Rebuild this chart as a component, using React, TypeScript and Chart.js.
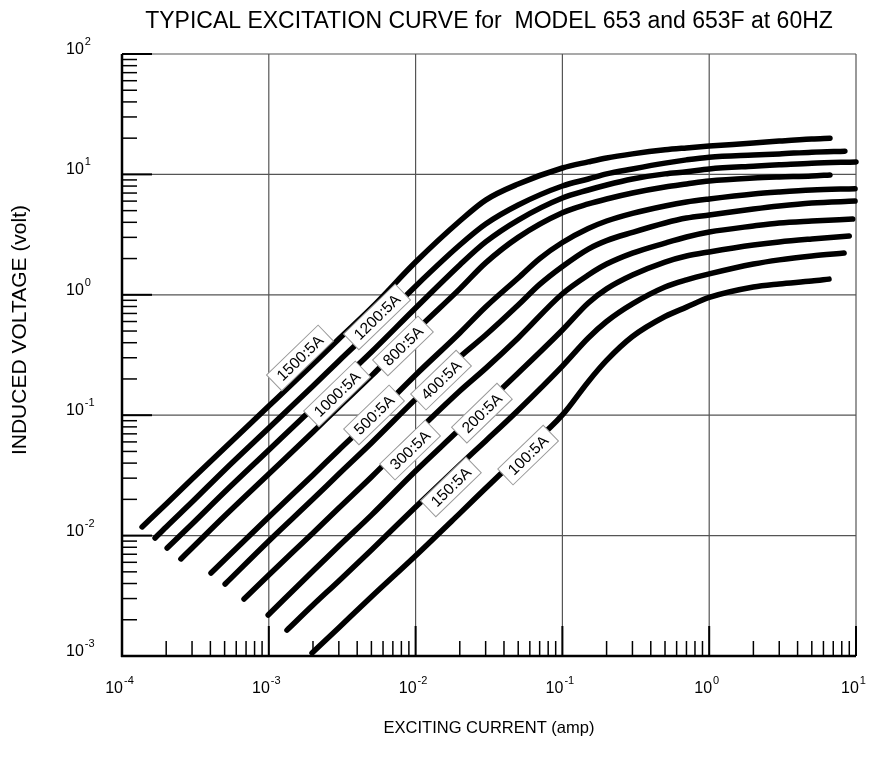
import React, { useEffect, useRef } from 'react';
import { Chart, registerables } from 'chart.js';

Chart.register(...registerables);

const FONT = "'Liberation Sans', Arial, Helvetica, sans-serif";

const TITLE = 'TYPICAL EXCITATION CURVE for  MODEL 653 and 653F at 60HZ';
const X_TITLE = 'EXCITING CURRENT (amp)';
const Y_TITLE = 'INDUCED VOLTAGE (volt)';

const xTickExponents = [-4, -3, -2, -1, 0, 1];
const yTickExponents = [-3, -2, -1, 0, 1, 2];
const minorMultipliers = [2, 3, 4, 5, 6, 7, 8, 9];

// ---- curve data (exciting current in A, induced voltage in V) ----
const current1500 = [1.37e-4, 2e-4, 3e-4, 5e-4, 1e-3, 2e-3, 3e-3, 5e-3, 1e-2, 2e-2, 3e-2, 5e-2, 0.1, 0.15, 0.2, 0.3, 0.5, 0.7, 1, 2, 3, 5, 6.65];
const voltage1500 = [0.0118, 0.0183, 0.0295, 0.0535, 0.119, 0.266, 0.43, 0.777, 1.87, 4.1, 6.12, 8.32, 11.3, 12.7, 13.7, 14.8, 16.0, 16.6, 17.2, 18.2, 18.9, 19.7, 20.0];

const current1200 = [1.68e-4, 2e-4, 3e-4, 5e-4, 1e-3, 2e-3, 3e-3, 5e-3, 1e-2, 2e-2, 3e-2, 5e-2, 0.1, 0.15, 0.2, 0.3, 0.5, 0.7, 1, 2, 3, 5, 8.4];
const voltage1200 = [0.00955, 0.0118, 0.019, 0.0351, 0.0783, 0.175, 0.282, 0.51, 1.18, 2.59, 3.87, 5.57, 8.01, 9.16, 10.1, 11.1, 12.4, 13.2, 13.9, 14.5, 14.8, 15.3, 15.6];

const current1000 = [2.03e-4, 3e-4, 5e-4, 1e-3, 2e-3, 3e-3, 5e-3, 1e-2, 2e-2, 3e-2, 5e-2, 0.1, 0.15, 0.2, 0.3, 0.5, 0.7, 1, 2, 3, 5, 10];
const voltage1000 = [0.00789, 0.01248, 0.023, 0.0514, 0.115, 0.185, 0.335, 0.777, 1.77, 2.75, 4.18, 6.37, 7.42, 8.17, 9.16, 10.1, 10.5, 11.1, 11.7, 12.0, 12.4, 12.7];

const current800 = [2.52e-4, 3e-4, 5e-4, 1e-3, 2e-3, 3e-3, 5e-3, 1e-2, 2e-2, 3e-2, 5e-2, 0.1, 0.15, 0.2, 0.3, 0.5, 0.7, 1, 2, 3, 5, 6.65];
const voltage800 = [0.0064, 0.00789, 0.01455, 0.0325, 0.0725, 0.117, 0.212, 0.5, 1.12, 1.84, 3.0, 4.8, 5.68, 6.25, 7.01, 7.86, 8.32, 8.81, 9.33, 9.52, 9.7, 9.9];

const current500 = [4.04e-4, 1e-3, 2e-3, 3e-3, 5e-3, 1e-2, 2e-2, 3e-2, 5e-2, 7e-2, 0.1, 0.15, 0.2, 0.3, 0.5, 0.7, 1, 2, 3, 5, 9.85];
const voltage500 = [0.00489, 0.01426, 0.0319, 0.0514, 0.0929, 0.216, 0.482, 0.792, 1.38, 2.0, 2.72, 3.55, 4.1, 4.75, 5.47, 5.9, 6.25, 6.87, 7.14, 7.42, 7.6];

const current400 = [5.04e-4, 1e-3, 2e-3, 3e-3, 5e-3, 1e-2, 2e-2, 3e-2, 5e-2, 7e-2, 0.1, 0.15, 0.2, 0.3, 0.5, 0.7, 1, 2, 3, 5, 9.85];
const voltage400 = [0.00396, 0.00902, 0.0201, 0.0325, 0.0588, 0.136, 0.304, 0.463, 0.822, 1.22, 1.72, 2.4, 2.82, 3.3, 3.95, 4.34, 4.6, 5.16, 5.47, 5.79, 6.0];

const current300 = [6.78e-4, 1e-3, 2e-3, 3e-3, 5e-3, 1e-2, 2e-2, 3e-2, 5e-2, 0.1, 0.15, 0.2, 0.3, 0.5, 0.7, 1, 2, 3, 5, 9.5];
const voltage300 = [0.00297, 0.00471, 0.01052, 0.01695, 0.0307, 0.0711, 0.159, 0.245, 0.438, 1.02, 1.46, 1.8, 2.22, 2.69, 3.02, 3.32, 3.73, 3.95, 4.1, 4.26];

const current200 = [9.9e-4, 2e-3, 3e-3, 5e-3, 1e-2, 2e-2, 3e-2, 5e-2, 0.1, 0.15, 0.2, 0.3, 0.5, 0.7, 1, 2, 3, 5, 9.0];
const voltage200 = [0.00219, 0.00508, 0.0082, 0.0148, 0.0344, 0.0767, 0.124, 0.224, 0.51, 0.855, 1.12, 1.46, 1.87, 2.1, 2.27, 2.59, 2.75, 2.91, 3.08];

const current150 = [1.33e-3, 2e-3, 3e-3, 5e-3, 1e-2, 2e-2, 3e-2, 5e-2, 0.1, 0.15, 0.2, 0.3, 0.5, 0.7, 1, 2, 3, 5, 8.3];
const voltage150 = [0.00164, 0.00265, 0.0042, 0.00759, 0.0173, 0.0386, 0.0611, 0.11, 0.256, 0.438, 0.6, 0.84, 1.16, 1.33, 1.49, 1.8, 1.95, 2.1, 2.22];

const current100 = [1.97e-3, 3e-3, 5e-3, 1e-2, 2e-2, 3e-2, 5e-2, 0.1, 0.15, 0.2, 0.3, 0.5, 0.7, 1, 2, 3, 5, 6.55];
const voltage100 = [0.00106, 0.00172, 0.0031, 0.0068, 0.0153, 0.0247, 0.045, 0.1005, 0.19, 0.285, 0.45, 0.66, 0.79, 0.95, 1.16, 1.23, 1.3, 1.35];

// ---- curve label tags (ratio, anchor position in data units) ----
const ratioNames = ['1500:5A', '1200:5A', '1000:5A', '800:5A', '500:5A', '400:5A', '300:5A', '200:5A', '150:5A', '100:5A'];
const tagCurrent = [1.63e-3, 5.46e-3, 2.92e-3, 8.2e-3, 5.21e-3, 1.49e-2, 9.17e-3, 2.83e-2, 1.74e-2, 5.84e-2];
const tagVoltage = [0.299, 0.655, 0.15, 0.376, 0.1005, 0.196, 0.0514, 0.104, 0.0254, 0.0467];

const curveCurrents = [current1500, current1200, current1000, current800, current500, current400, current300, current200, current150, current100];
const curveVoltages = [voltage1500, voltage1200, voltage1000, voltage800, voltage500, voltage400, voltage300, voltage200, voltage150, voltage100];

function line(ctx: CanvasRenderingContext2D, x1: number, y1: number, x2: number, y2: number) {
  ctx.beginPath();
  ctx.moveTo(x1, y1);
  ctx.lineTo(x2, y2);
  ctx.stroke();
}

const decorPlugin = {
  id: 'decor',
  beforeDatasetsDraw(chart: any) {
    const { ctx, chartArea: a, scales } = chart;
    const xs = scales.x;
    const ys = scales.y;
    ctx.save();
    ctx.strokeStyle = '#555';
    ctx.lineWidth = 1.2;
    for (const e of xTickExponents) {
      const px = xs.getPixelForValue(Math.pow(10, e));
      line(ctx, px, a.top, px, a.bottom);
    }
    for (const e of yTickExponents) {
      const py = ys.getPixelForValue(Math.pow(10, e));
      line(ctx, a.left, py, a.right, py);
    }
    ctx.strokeStyle = '#000';
    ctx.lineWidth = 1.5;
    for (const e of xTickExponents.slice(0, -1)) {
      for (const m of minorMultipliers) {
        const px = xs.getPixelForValue(m * Math.pow(10, e));
        line(ctx, px, a.bottom, px, a.bottom - 15);
      }
    }
    for (const e of yTickExponents.slice(0, -1)) {
      for (const m of minorMultipliers) {
        const py = ys.getPixelForValue(m * Math.pow(10, e));
        line(ctx, a.left, py, a.left + 15, py);
      }
    }
    ctx.lineWidth = 2;
    for (const e of xTickExponents) {
      const px = xs.getPixelForValue(Math.pow(10, e));
      line(ctx, px, a.bottom, px, a.bottom - 30);
    }
    for (const e of yTickExponents) {
      const py = ys.getPixelForValue(Math.pow(10, e));
      line(ctx, a.left, py, a.left + 30, py);
    }
    ctx.lineWidth = 2.5;
    line(ctx, a.left, a.top, a.left, a.bottom + 1);
    line(ctx, a.left - 1, a.bottom, a.right, a.bottom);
    ctx.restore();
  },
  afterDatasetsDraw(chart: any) {
    const { ctx, scales } = chart;
    const xs = scales.x;
    const ys = scales.y;
    ctx.save();
    ctx.font = `15.5px ${FONT}`;
    ctx.textAlign = 'center';
    ctx.textBaseline = 'middle';
    ratioNames.forEach((name, i) => {
      const px = xs.getPixelForValue(tagCurrent[i]);
      const py = ys.getPixelForValue(tagVoltage[i]);
      ctx.save();
      ctx.translate(px, py);
      ctx.rotate((-44 * Math.PI) / 180);
      const w = ctx.measureText(name).width + 14;
      const h = 22;
      ctx.fillStyle = '#fff';
      ctx.fillRect(-w / 2, -h / 2, w, h);
      ctx.strokeStyle = '#999';
      ctx.lineWidth = 1;
      ctx.strokeRect(-w / 2, -h / 2, w, h);
      ctx.fillStyle = '#000';
      ctx.fillText(name, 0, 1);
      ctx.restore();
    });
    ctx.restore();
  },
  afterDraw(chart: any) {
    const { ctx, chartArea: a, scales } = chart;
    const xs = scales.x;
    const ys = scales.y;
    ctx.save();
    ctx.fillStyle = '#000';
    ctx.textBaseline = 'alphabetic';
    ctx.textAlign = 'left';
    const baseFont = `16px ${FONT}`;
    const expFont = `11px ${FONT}`;
    for (const e of xTickExponents) {
      const px = xs.getPixelForValue(Math.pow(10, e));
      ctx.font = baseFont;
      const w10 = ctx.measureText('10').width;
      ctx.font = expFont;
      const wExp = ctx.measureText(String(e)).width;
      const total = w10 + 1 + wExp;
      const sx = px - total / 2 - 2.5;
      ctx.font = baseFont;
      ctx.fillText('10', sx, a.bottom + 37);
      ctx.font = expFont;
      ctx.fillText(String(e), sx + w10 + 1, a.bottom + 28);
    }
    for (const e of yTickExponents) {
      const py = ys.getPixelForValue(Math.pow(10, e));
      ctx.font = baseFont;
      const w10 = ctx.measureText('10').width;
      const sx = 66;
      ctx.fillText('10', sx, py);
      ctx.font = expFont;
      ctx.fillText(String(e), sx + w10 + 1, py - 9);
    }
    const cx = (a.left + a.right) / 2;
    ctx.textAlign = 'center';
    ctx.font = `23px ${FONT}`;
    ctx.fillText(TITLE, cx, 28);
    ctx.font = `16.5px ${FONT}`;
    ctx.fillText(X_TITLE, cx, 733);
    ctx.save();
    ctx.translate(20, 330);
    ctx.rotate(-Math.PI / 2);
    ctx.textBaseline = 'middle';
    ctx.font = `21px ${FONT}`;
    ctx.fillText(Y_TITLE, 0, 0);
    ctx.restore();
    ctx.restore();
  },
};

export default function App() {
  const canvasRef = useRef<HTMLCanvasElement | null>(null);

  useEffect(() => {
    const canvas = canvasRef.current;
    if (!canvas) return;
    const datasets = ratioNames.map((name, k) => ({
      label: name,
      data: curveCurrents[k].map((c, i) => ({ x: c, y: curveVoltages[k][i] })),
      borderColor: '#000',
      backgroundColor: '#000',
      borderWidth: 5.5,
      pointRadius: 0,
      pointHoverRadius: 0,
      fill: false,
      cubicInterpolationMode: 'monotone' as const,
      borderCapStyle: 'round' as const,
      borderJoinStyle: 'round' as const,
      clip: false as const,
    }));
    const chart = new Chart(canvas, {
      type: 'line',
      data: { datasets },
      options: {
        animation: false,
        responsive: false,
        devicePixelRatio: 1,
        events: [],
        layout: { padding: { left: 122, right: 14, top: 54, bottom: 106 } },
        scales: {
          x: { type: 'logarithmic', min: 1e-4, max: 10, display: false },
          y: { type: 'logarithmic', min: 1e-3, max: 100, display: false },
        },
        plugins: {
          legend: { display: false },
          tooltip: { enabled: false },
          title: { display: false },
        },
      },
      plugins: [decorPlugin],
    });
    return () => chart.destroy();
  }, []);

  return (
    <div style={{ position: 'fixed', left: 0, top: 0, width: 870, height: 762, background: '#fff' }}>
      <canvas ref={canvasRef} width={870} height={762} />
    </div>
  );
}
